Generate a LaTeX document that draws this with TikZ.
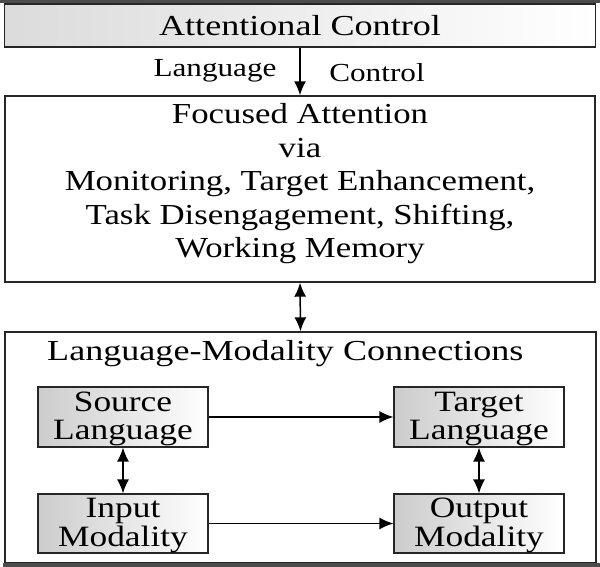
\documentclass[tikz,border=0pt]{standalone}
\usepackage{fontspec}
\setmainfont{Liberation Serif}
\usetikzlibrary{arrows.meta}
\newcommand{\widetxt}[1]{\scalebox{1.2}[1]{#1}}
\newcommand{\twolines}[2]{\raisebox{-3pt}[\height][\depth]{\begin{tabular}{@{}c@{}}\widetxt{#1}\\\widetxt{#2}\end{tabular}}}
\begin{document}
\begin{tikzpicture}[x=1pt,y=-1pt,
  bigbox/.style={draw=black!85,line width=1.4pt,fill=white,minimum width=#1,inner sep=0pt},
  smallbox/.style={draw=black!85,line width=1.2pt,left color=black!20,right color=white,minimum width=170pt,inner sep=0pt,font=\fontsize{29.5}{28}\selectfont},
  maintext/.style={font=\fontsize{29}{33.5}\selectfont,align=center,inner sep=0pt},
  lbl/.style={font=\fontsize{26}{28}\selectfont,inner sep=0pt},
  tip/.tip={Latex[length=14pt,width=12pt]},
  arr/.style={line width=1.5pt,-tip},
  darr/.style={line width=1.5pt,tip-tip}
]
\useasboundingbox (0,0) rectangle (600,567);
% top box
\node[draw=black!85,line width=1.4pt,left color=black!14,right color=white,minimum width=591pt,minimum height=43pt,inner sep=0pt,font=\fontsize{29}{33}\selectfont] (ac) at (300,25.5) {\scalebox{1.245}[1]{Attentional Control}};
\fill[black!70] (0,0) rectangle (600,3);
% focused box
\node[bigbox=590pt,minimum height=186pt] (fa) at (300,189) {};
\node[maintext] (fat) at (300,184) {\widetxt{Focused Attention}\\\widetxt{via}\\\widetxt{Monitoring, Target Enhancement,}\\\widetxt{Task Disengagement, Shifting,}\\\widetxt{Working Memory}};
% lower box
\node[bigbox=591pt,minimum height=231pt] (lm) at (300.5,447.5) {};
\fill[black!70] (3,563) rectangle (600,567);
\node[maintext,anchor=west] (lmt) at (47,354) {\scalebox{1.245}[1]{Language-Modality Connections}};
% small boxes
\node[smallbox,minimum height=60pt] (src) at (123,417) {\twolines{Source}{Language}};
\node[smallbox,minimum height=60pt] (tgt) at (479,417) {\twolines{Target}{Language}};
\node[smallbox,minimum height=59pt] (inp) at (123,523.5) {\twolines{Input}{Modality}};
\node[smallbox,minimum height=59pt] (out) at (479,523.5) {\twolines{Output}{Modality}};
% labels
\node[lbl] (l1) at (215,71) {\widetxt{Language}};
\node[lbl] (l2) at (377,73) {\widetxt{Control}};
% arrows
\draw[arr] (ac.south) -- (fa.north);
\draw[darr] (fa.south) -- (lm.north);
\draw[arr] (src.east) -- (tgt.west);
\draw[arr] (inp.east) -- (out.west);
\draw[darr] (src.south) -- (inp.north);
\draw[darr] (tgt.south) -- (out.north);
\end{tikzpicture}
\end{document}
